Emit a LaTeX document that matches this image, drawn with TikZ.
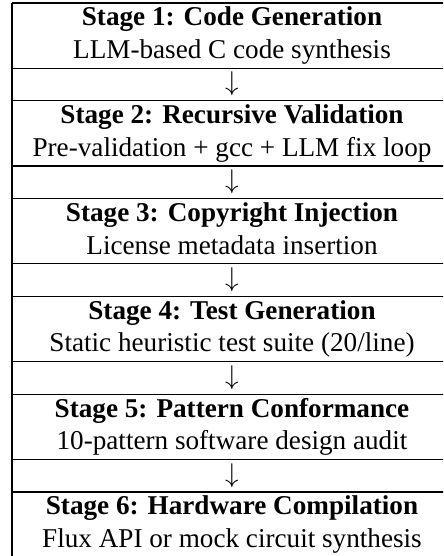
\documentclass[tikz,border=0pt]{standalone}
\usepackage{fontspec}
\setmainfont{Liberation Serif}
\begin{document}
\begin{tikzpicture}[x=0.3681pt,y=-0.3681pt,
  txt/.style={anchor=base,inner sep=0pt,font=\fontsize{10}{12}\selectfont},
  ttl/.style={txt,font=\fontsize{10}{12}\selectfont\bfseries},
  rule/.style={line width=0.4pt,black}]
\path[use as bounding box] (0,0) rectangle (443,556);
\clip (0,0) rectangle (443,556);
% table frame
\draw[rule] (12,3) -- (452,3);
\draw[rule] (12,3) -- (12,560);
\draw[rule] (452,3) -- (452,560);
\foreach \y in {68.2,100.8,166,198.6,263.8,296.4,361.6,394.2,459.4,492,557.2}
  \draw[rule] (12,\y) -- (452,\y);
% texts
\node[ttl] (t1) at (232,25.8) {Stage 1: Code Generation};
\node[txt] (d1) at (232,58.4) {LLM-based C code synthesis};
\node[txt] (a1) at (232,91.0) {$\downarrow$};
\node[ttl] (t2) at (232,123.6) {Stage 2: Recursive Validation};
\node[txt] (d2) at (232,156.2) {Pre-validation + gcc + LLM fix loop};
\node[txt] (a2) at (232,188.8) {$\downarrow$};
\node[ttl] (t3) at (232,221.4) {Stage 3: Copyright Injection};
\node[txt] (d3) at (232,254.0) {License metadata insertion};
\node[txt] (a3) at (232,286.6) {$\downarrow$};
\node[ttl] (t4) at (232,319.2) {Stage 4: Test Generation};
\node[txt] (d4) at (232,351.8) {Static heuristic test suite (20/line)};
\node[txt] (a4) at (232,384.4) {$\downarrow$};
\node[ttl] (t5) at (232,417.0) {Stage 5: Pattern Conformance};
\node[txt] (d5) at (232,449.6) {10-pattern software design audit};
\node[txt] (a5) at (232,482.2) {$\downarrow$};
\node[ttl] (t6) at (232,514.8) {Stage 6: Hardware Compilation};
\node[txt] (d6) at (232,547.4) {Flux API or mock circuit synthesis};
\end{tikzpicture}
\end{document}
